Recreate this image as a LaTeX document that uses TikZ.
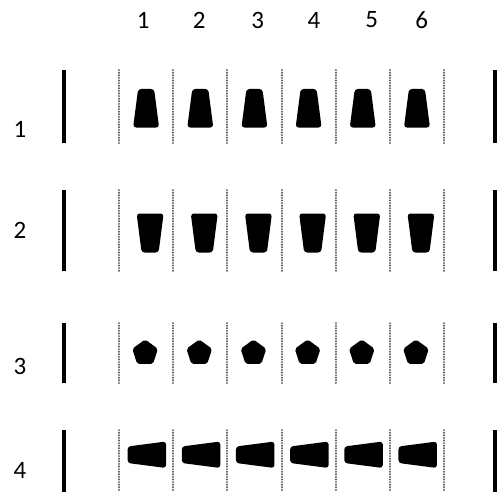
\documentclass[tikz,border=0pt]{standalone}
\usepackage{fontspec}
\setmainfont{Carlito}
\usetikzlibrary{positioning}

\begin{document}
\begin{tikzpicture}[x=1pt, y=-1pt,
  wall/.style={line width=4pt},
  divider/.style={black!65, line width=2pt, line cap=round, dash pattern=on 0.2pt off 2.4pt},
  tooth/.style={fill=black, rounded corners=3pt},
  numlabel/.style={font=\fontsize{25}{25}\selectfont, inner sep=0pt}]
\useasboundingbox (0,0) rectangle (497,492);
% column numbers
\foreach \c/\x in {1/143.3, 2/199.3, 3/257.7, 4/314, 5/371.7, 6/421.7}
  \node[numlabel] (col\c) at (\x,20) {\c};
% row numbers, walls and dotted dividers
\foreach \r/\y/\top/\bot in {1/129/70/143, 2/230/190/271, 3/366.5/323/383, 4/470/430/492} {
  \node[numlabel] (row\r) at (20,\y) {\r};
  \draw[wall] (64,\top) -- (64,\bot);
  \draw[wall] (495,\top) -- (495,\bot);
  \foreach \k in {0,...,6}
    \draw[divider] ({119+54.17*\k},\top) -- ({119+54.17*\k},\bot);
}
% the shapes
\foreach \c in {0,...,5} {
  \pgfmathsetmacro\cx{146.1+54.17*\c}
  \fill[tooth] (\cx-8,89) -- (\cx+8,89) -- (\cx+13,127.5) -- (\cx-13,127.5) -- cycle;
  \fill[tooth] (\cx-9.5,213.5) -- (\cx+17.5,213.5) -- (\cx+12.5,252.5) -- (\cx-4.5,252.5) -- cycle;
  \fill[tooth, rounded corners=2pt] (\cx-1,353) +(270:13.5) -- +(342:13.5) -- +(54:13.5) -- +(126:13.5) -- +(198:13.5) -- cycle;
  \fill[tooth] (\cx-18.5,446.5) -- (\cx+20,441.5) -- (\cx+20,468) -- (\cx-18.5,463) -- cycle;
}
\end{tikzpicture}
\end{document}
